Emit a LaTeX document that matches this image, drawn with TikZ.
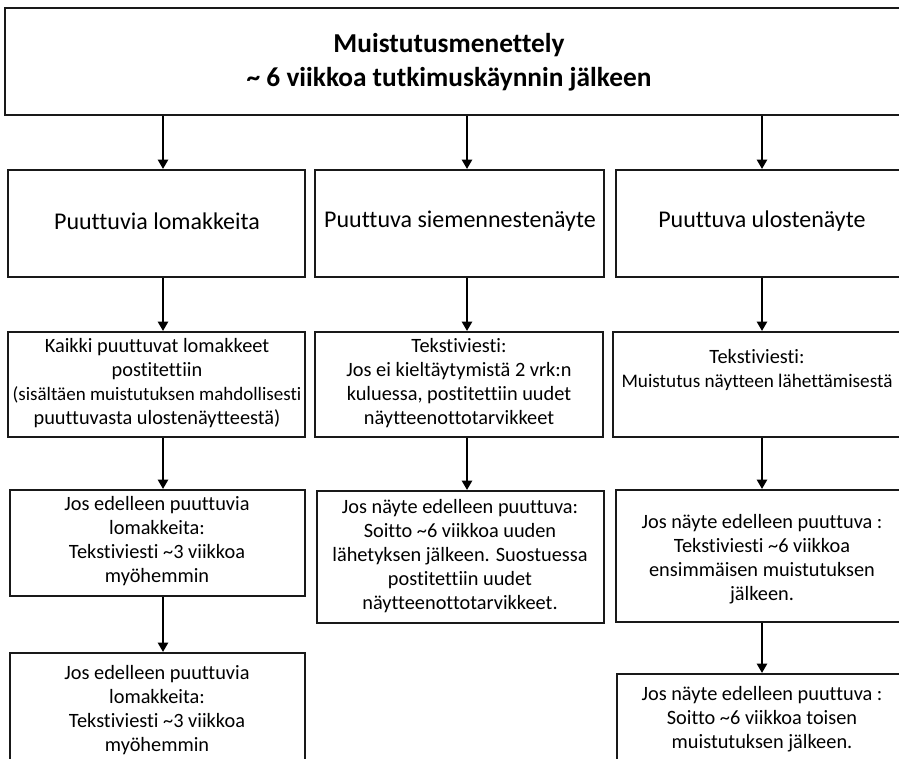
\documentclass[tikz,border=0pt]{standalone}
\usepackage{fontspec}
\setmainfont{Carlito}[Ligatures=NoCommon]
\usetikzlibrary{arrows.meta,fit}
\begin{document}
\begin{tikzpicture}[x=0.75pt,y=-0.75pt,
  box/.style={draw=black!90, line width=1.5pt, inner sep=0pt},
  txt/.style={align=center, font=\fontsize{15.25}{18}\selectfont, inner sep=0pt},
  head/.style={align=center, font=\fontsize{18}{21}\selectfont, inner sep=0pt},
  ttl/.style={align=center, font=\bfseries\fontsize{20.5}{25.5}\selectfont, inner sep=0pt},
  arr/.style={line width=1.9pt, black, -{Triangle[width=7.5pt,length=7pt]}}]
\useasboundingbox (0,0) rectangle (899,758);
\fill[white] (0,0) rectangle (899,758);

% boxes
\node[box, fit={(5,8) (912,115)}] (top) {};
\node[box, fit={(8,170) (305,277)}] (L2) {};
\node[box, fit={(315,170) (604,277)}] (M2) {};
\node[box, fit={(616,170) (912,277)}] (R2) {};
\node[box, fit={(8,332) (305,437)}] (L3) {};
\node[box, fit={(315,332) (603,437)}] (M3) {};
\node[box, fit={(613,332) (912,437)}] (R3) {};
\node[box, fit={(10,490) (305,596)}] (L4) {};
\node[box, fit={(317,491) (604,623)}] (M4) {};
\node[box, fit={(616,490) (912,622)}] (R4) {};
\node[box, fit={(10,653) (305,770)}] (L5) {};
\node[box, fit={(617,674) (912,770)}] (R5) {};

% texts
\node[ttl] (tTop) at (449,62) {Muistutusmenettely\\\textasciitilde{} 6 viikkoa tutkimuskäynnin jälkeen};
\node[head] (tL2) at (157,221) {Puuttuvia lomakkeita};
\node[head] (tM2) at (460,221) {Puuttuva siemennestenäyte};
\node[head] (tR2) at (762,221) {Puuttuva ulostenäyte};
\node[txt] (tL3) at (157,383) {Kaikki puuttuvat lomakkeet\\postitettiin\\{\fontsize{14.25}{18}\selectfont(sisältäen muistutuksen mahdollisesti}\\puuttuvasta ulostenäytteestä)};
\node[txt] (tM3) at (459,383) {Tekstiviesti:\\Jos ei kieltäytymistä 2 vrk:n\\kuluessa, postitettiin uudet\\näytteenottotarvikkeet};
\node[txt] (tR3) at (757,370) {Tekstiviesti:\\{\fontsize{14.4}{18}\selectfont Muistutus näytteen lähettämisestä}};
\node[txt] (tL4) at (157,541) {Jos edelleen puuttuvia\\lomakkeita:\\Tekstiviesti \textasciitilde3 viikkoa\\myöhemmin};
\node[txt] (tM4) at (460,556) {Jos näyte edelleen puuttuva:\\Soitto \textasciitilde6 viikkoa uuden\\lähetyksen jälkeen. Suostuessa\\postitettiin uudet\\näytteenottotarvikkeet.};
\node[txt] (tR4) at (762,559) {Jos näyte edelleen puuttuva :\\Tekstiviesti \textasciitilde6 viikkoa\\ensimmäisen muistutuksen\\jälkeen.};
\node[txt] (tL5) at (157,710) {Jos edelleen puuttuvia\\lomakkeita:\\Tekstiviesti \textasciitilde3 viikkoa\\myöhemmin};
\node[txt] (tR5) at (762,719) {Jos näyte edelleen puuttuva :\\Soitto \textasciitilde6 viikkoa toisen\\muistutuksen jälkeen.};

% column x positions
\coordinate (cL) at (163,0);
\coordinate (cM) at (467,0);
\coordinate (cR) at (762,0);

% arrows
\draw[arr] (cL |- top.south) -- (cL |- L2.north);
\draw[arr] (cM |- top.south) -- (cM |- M2.north);
\draw[arr] (cR |- top.south) -- (cR |- R2.north);
\draw[arr] (cL |- L2.south) -- (cL |- L3.north);
\draw[arr] (cM |- M2.south) -- (cM |- M3.north);
\draw[arr] (cR |- R2.south) -- (cR |- R3.north);
\draw[arr] (cL |- L3.south) -- (cL |- L4.north);
\draw[arr] (cM |- M3.south) -- (cM |- M4.north);
\draw[arr] (cR |- R3.south) -- (cR |- R4.north);
\draw[arr] (cL |- L4.south) -- (cL |- L5.north);
\draw[arr] (cR |- R4.south) -- (cR |- R5.north);
\end{tikzpicture}
\end{document}
